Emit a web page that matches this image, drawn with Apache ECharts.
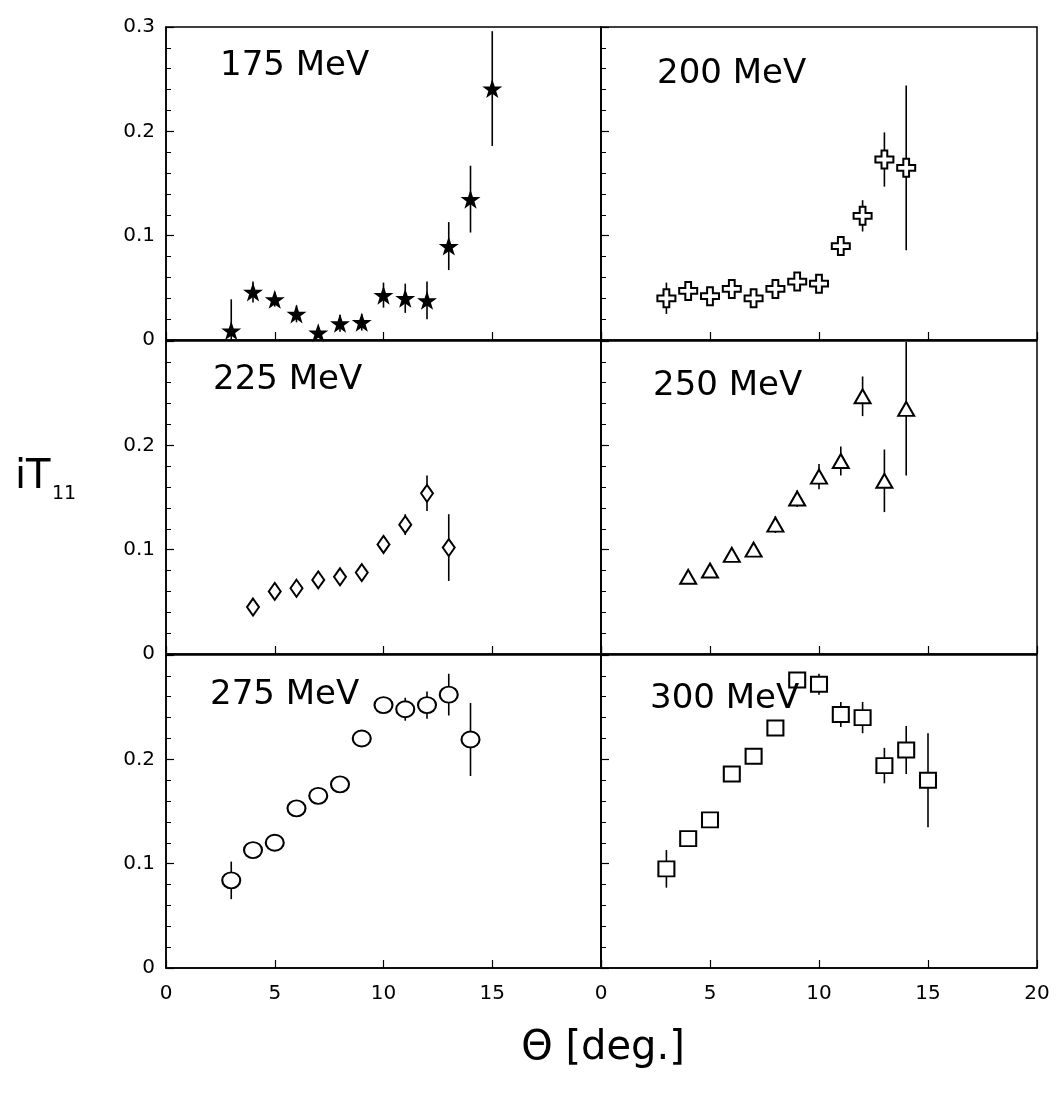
<!DOCTYPE html>
<html>
<head>
<meta charset="utf-8">
<script src="https://cdn.jsdelivr.net/npm/echarts@6/dist/echarts.min.js"></script>
<style>
html,body{margin:0;padding:0;background:#fff;}
#chart{width:1063px;height:1093px;}
</style>
</head>
<body>
<div id="chart"></div>
<script>
// ---- data (theta in deg, iT11 value, error) ----
const theta175 = [3, 4, 5, 6, 7, 8, 9, 10, 11, 12, 13, 14, 15];
const t175     = [0.009, 0.046, 0.039, 0.025, 0.007, 0.016, 0.017, 0.043, 0.040, 0.038, 0.090, 0.135, 0.241];
const err175   = [0.030, 0.010, 0.007, 0.008, 0.004, 0.008, 0.008, 0.012, 0.014, 0.018, 0.023, 0.032, 0.055];

const theta200 = [3, 4, 5, 6, 7, 8, 9, 10, 11, 12, 13, 14];
const t200     = [0.040, 0.047, 0.042, 0.049, 0.040, 0.049, 0.056, 0.054, 0.090, 0.119, 0.173, 0.165];
const err200   = [0.015, 0.005, 0.005, 0.005, 0.005, 0.005, 0.005, 0.005, 0.005, 0.015, 0.026, 0.079];

const theta225 = [4, 5, 6, 7, 8, 9, 10, 11, 12, 13];
const t225     = [0.045, 0.060, 0.063, 0.071, 0.074, 0.078, 0.105, 0.124, 0.154, 0.102];
const err225   = [0.004, 0.004, 0.004, 0.004, 0.004, 0.004, 0.005, 0.010, 0.017, 0.032];

const theta250 = [4, 5, 6, 7, 8, 9, 10, 11, 12, 13, 14];
const t250     = [0.074, 0.080, 0.095, 0.100, 0.124, 0.149, 0.170, 0.185, 0.247, 0.166, 0.235];
const err250   = [0.004, 0.004, 0.004, 0.004, 0.008, 0.008, 0.012, 0.014, 0.019, 0.030, 0.064];

const theta275 = [3, 4, 5, 6, 7, 8, 9, 10, 11, 12, 13, 14];
const t275     = [0.084, 0.113, 0.120, 0.153, 0.165, 0.176, 0.220, 0.252, 0.248, 0.252, 0.262, 0.219];
const err275   = [0.018, 0.004, 0.004, 0.004, 0.004, 0.004, 0.004, 0.006, 0.011, 0.013, 0.020, 0.035];

const theta300 = [3, 4, 5, 6, 7, 8, 9, 10, 11, 12, 13, 14, 15];
const t300     = [0.095, 0.124, 0.142, 0.186, 0.203, 0.230, 0.276, 0.272, 0.243, 0.240, 0.194, 0.209, 0.180];
const err300   = [0.018, 0.004, 0.004, 0.004, 0.004, 0.004, 0.004, 0.010, 0.012, 0.015, 0.017, 0.023, 0.045];

const panelLabels = ['175 MeV', '200 MeV', '225 MeV', '250 MeV', '275 MeV', '300 MeV'];
const xTickLabels = ['0', '5', '10', '15', '20'];
const yTickLabels = ['0', '0.1', '0.2', '0.3'];

// ---- layout / style ----
const FONT = 'DejaVu Sans';
const colLeft = [166, 601];
const colWidth = [435, 436];
const rowTop = [27, 341, 655];
const rowHeight = 313;

const STAR = 'path://M50,0 L61.8,35.1 L98.1,35.1 L68.8,56.7 L79.4,91 L50,70 L20.6,91 L31.2,56.7 L1.9,35.1 L38.2,35.1 Z';
const CROSS = 'path://M34,0 H66 V34 H100 V66 H66 V100 H34 V66 H0 V34 H34 Z';

const panels = [
  {x: theta175, y: t175, e: err175, symbol: STAR, size: [20, 19], fill: '#000'},
  {x: theta200, y: t200, e: err200, symbol: CROSS, size: [18, 18], fill: '#fff'},
  {x: theta225, y: t225, e: err225, symbol: 'diamond', size: [12, 17], fill: '#fff'},
  {x: theta250, y: t250, e: err250, symbol: 'triangle', size: [16, 14], fill: '#fff'},
  {x: theta275, y: t275, e: err275, symbol: 'circle', size: [18, 16], fill: '#fff'},
  {x: theta300, y: t300, e: err300, symbol: 'rect', size: [16, 15], fill: '#fff'}
];

const labelPos = [
  [220, 66], [657, 74], [213, 380], [653, 386], [210, 695], [650, 699]
];

const grids = [], xAxes = [], yAxes = [], series = [];
panels.forEach((p, i) => {
  const row = Math.floor(i / 2), col = i % 2;
  grids.push({
    left: colLeft[col], top: rowTop[row], width: colWidth[col], height: rowHeight,
    show: true, borderColor: '#000', borderWidth: 1.5, backgroundColor: 'transparent'
  });
  xAxes.push({
    gridIndex: i, type: 'value', min: 0, max: 20, interval: 5,
    axisLine: {show: true, lineStyle: {color: '#000', width: 1.5}},
    axisTick: {show: true, inside: true, length: 8, lineStyle: {color: '#000', width: 1.2}},
    splitLine: {show: false},
    axisLabel: {
      show: row === 2, margin: 16, color: '#000', fontFamily: FONT, fontSize: 20,
      formatter: v => {
        const k = Math.round(v / 5);
        if (col === 0 && k === 4) return '';
        return xTickLabels[k];
      }
    }
  });
  yAxes.push({
    gridIndex: i, type: 'value', min: 0, max: 0.3, interval: 0.1,
    axisLine: {show: true, lineStyle: {color: '#000', width: 1.5}},
    axisTick: {show: true, inside: true, length: 8, lineStyle: {color: '#000', width: 1.2}},
    minorTick: {show: true, splitNumber: 5, length: 5, lineStyle: {color: '#000', width: 1}},
    splitLine: {show: false},
    minorSplitLine: {show: false},
    axisLabel: {
      show: col === 0, margin: 11, color: '#000', fontFamily: FONT, fontSize: 20,
      formatter: v => {
        const k = Math.round(v * 10);
        if (row > 0 && k === 3) return '';
        return yTickLabels[k];
      }
    }
  });
  const errData = p.x.map((x, j) => [x, p.y[j], p.e[j]]);
  series.push({
    type: 'custom', xAxisIndex: i, yAxisIndex: i, clip: true, z: 2,
    data: errData,
    encode: {x: 0, y: 1},
    renderItem: (params, api) => {
      const x = api.value(0), y = api.value(1), e = api.value(2);
      const a = api.coord([x, y - e]);
      const b = api.coord([x, y + e]);
      return {
        type: 'line',
        shape: {x1: a[0], y1: a[1], x2: b[0], y2: b[1]},
        style: {stroke: '#000', lineWidth: 1.6}
      };
    }
  });
  series.push({
    type: 'scatter', xAxisIndex: i, yAxisIndex: i, z: 3,
    symbol: p.symbol, symbolSize: p.size, symbolKeepAspect: false,
    itemStyle: {color: p.fill, borderColor: '#000', borderWidth: p.fill === '#000' ? 0 : 2, opacity: 1},
    data: p.x.map((x, j) => [x, p.y[j]])
  });
});

const graphics = panelLabels.map((t, i) => ({
  type: 'text', z: 10,
  style: {
    text: t, x: labelPos[i][0], y: labelPos[i][1],
    textVerticalAlign: 'middle', textAlign: 'left',
    font: '34px "' + FONT + '"', fill: '#000'
  }
}));
graphics.push({
  type: 'text', z: 10,
  style: {text: 'iT', x: 15, y: 478, textVerticalAlign: 'middle', font: '40px "' + FONT + '"', fill: '#000'}
});
graphics.push({
  type: 'text', z: 10,
  style: {text: '11', x: 52, y: 494, textVerticalAlign: 'middle', font: '19px "' + FONT + '"', fill: '#000'}
});
graphics.push({
  type: 'text', z: 10,
  style: {text: 'Θ [deg.]', x: 603, y: 1049, textVerticalAlign: 'middle', textAlign: 'center', font: '40px "' + FONT + '"', fill: '#000'}
});

const chart = echarts.init(document.getElementById('chart'), null, {renderer: 'canvas'});
chart.setOption({
  backgroundColor: '#fff',
  animation: false,
  grid: grids,
  xAxis: xAxes,
  yAxis: yAxes,
  series: series,
  graphic: graphics
});
</script>
</body>
</html>
